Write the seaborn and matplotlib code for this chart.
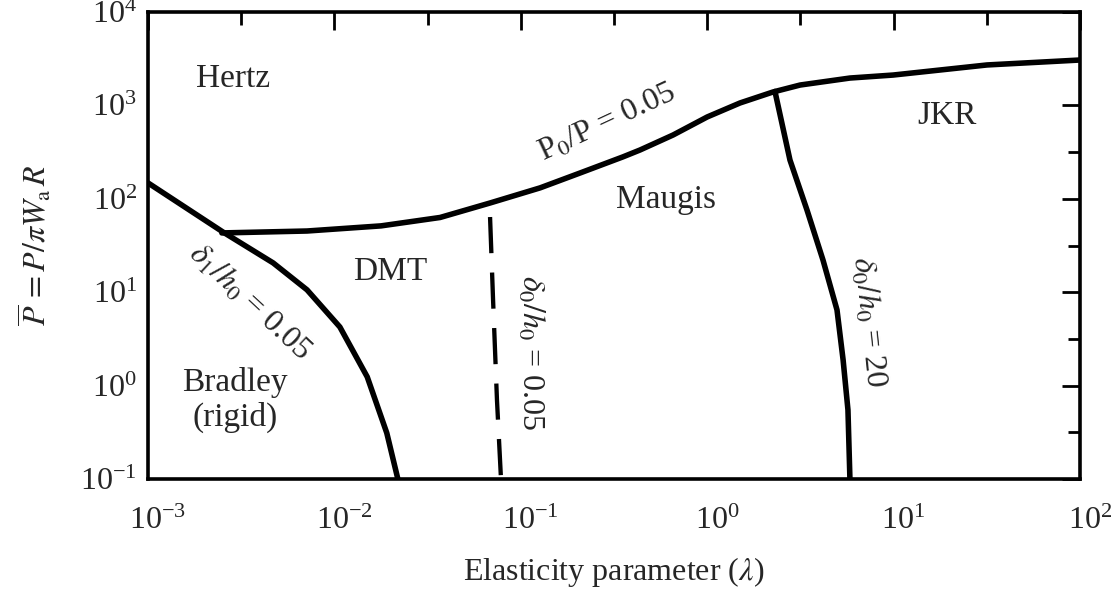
import matplotlib
matplotlib.use("Agg")
import matplotlib.pyplot as plt
import matplotlib.ticker as mticker
import matplotlib.transforms as mtransforms
import pandas as pd
import seaborn as sns

# Boundary P0/P = 0.05 (Hertz / DMT-Maugis-JKR)
p0_lambda = [0.00249, 0.00713, 0.0178, 0.0369, 0.0684, 0.127, 0.208, 0.353, 0.436,
             0.656, 1.0, 1.50, 2.25, 3.15, 5.83, 9.93, 31.7, 100.0]
p0_load = [43.1, 45.2, 51.3, 63.1, 90.2, 131, 189, 281, 333,
           482, 752, 1062, 1390, 1652, 1963, 2113, 2710, 3062]

# Boundary delta1/h0 = 0.05 (Bradley rigid limit)
d1_lambda = [0.001, 0.00252, 0.00469, 0.00713, 0.0107, 0.0150, 0.0191, 0.0219]
d1_load = [148, 44.2, 20.6, 10.6, 4.24, 1.24, 0.311, 0.1]

# Boundary delta0/h0 = 0.05 (DMT / Maugis)
d005_lambda = [0.0684, 0.0710, 0.0745, 0.0783]
d005_load = [63.8, 8.24, 0.70, 0.1]

# Boundary delta0/h0 = 20 (Maugis / JKR)
d20_lambda = [2.31, 2.78, 3.43, 4.18, 4.97, 5.36, 5.69, 5.83]
d20_load = [1410, 260, 75.9, 22.1, 6.46, 1.88, 0.55, 0.1]

region_names = ["Hertz", "JKR", "Maugis", "DMT", "Bradley\n(rigid)"]
region_x = [0.00286, 19.4, 0.601, 0.0199, 0.00293]
region_y = [1920, 769, 97, 16.4, 0.70]

x_ticks = [1e-3, 1e-2, 1e-1, 1e0, 1e1, 1e2]
y_ticks = [1e-1, 1e0, 1e1, 1e2, 1e3, 1e4]

sns.set_style("white")
plt.rcParams["font.family"] = ["Liberation Serif", "DejaVu Serif"]
plt.rcParams["mathtext.fontset"] = "stix"

fig = plt.figure(figsize=(11.13, 5.98), dpi=100)
ax = fig.add_axes([148 / 1113, 1 - 479 / 598, (1080 - 148) / 1113, (479 - 12) / 598])

def frame(xs, ys):
    return pd.DataFrame({"lam": xs, "load": ys})

solid = dict(color="black", linewidth=4.0, estimator=None, sort=False, ax=ax)
sns.lineplot(data=frame(p0_lambda, p0_load), x="lam", y="load", **solid)
sns.lineplot(data=frame(d1_lambda, d1_load), x="lam", y="load", **solid)
sns.lineplot(data=frame(d20_lambda, d20_load), x="lam", y="load", **solid)
sns.lineplot(data=frame(d005_lambda, d005_load), x="lam", y="load", color="black",
             linewidth=3.1, estimator=None, sort=False, ax=ax,
             linestyle=(0, (8.4, 4.5)))

ax.set_xscale("log")
ax.set_yscale("log")
ax.set_xlim(1e-3, 1e2)
ax.set_ylim(1e-1, 1e4)
ax.set_xticks(x_ticks)
ax.set_yticks(y_ticks)
ax.xaxis.set_major_formatter(mticker.LogFormatterSciNotation())
ax.yaxis.set_major_formatter(mticker.LogFormatterSciNotation())
ax.xaxis.set_minor_locator(mticker.LogLocator(base=10, subs=(10 ** 0.5,)))
ax.yaxis.set_minor_locator(mticker.LogLocator(base=10, subs=(10 ** 0.5,)))
ax.xaxis.set_minor_formatter(mticker.NullFormatter())
ax.yaxis.set_minor_formatter(mticker.NullFormatter())

ax.tick_params(which="both", direction="in", top=True, right=True,
               width=2.0, color="black", labelsize=23)
ax.tick_params(which="major", length=13)
ax.tick_params(which="minor", length=9)
ax.tick_params(axis="x", which="major", pad=20)
ax.tick_params(axis="y", which="major", pad=8)
for s in ax.spines.values():
    s.set_linewidth(2.6)
    s.set_color("black")
    s.set_visible(True)

# nudge x tick labels so the base "10" sits over its tick
shift = mtransforms.ScaledTranslation(7 / 72, 0, fig.dpi_scale_trans)
for lbl in ax.get_xticklabels():
    lbl.set_transform(lbl.get_transform() + shift)

ax.set_xlabel(r"Elasticity parameter ($\lambda$)", fontsize=23, labelpad=14)
ax.set_ylabel(r"$\overline{P}\, = P/\pi W_{\mathrm{a}}\, R$", fontsize=23, labelpad=19)

for name, xv, yv in zip(region_names, region_x, region_y):
    ax.text(xv, yv, name, fontsize=24, ha="center", va="center", linespacing=1.15)

ax.text(0.290, 649, r"P$_0$/P = 0.05", fontsize=23, ha="center", va="center",
        rotation=25, rotation_mode="anchor")
ax.text(0.00352, 7.65, r"$\delta_1/h_0$ = 0.05", fontsize=23, ha="center", va="center",
        rotation=-43, rotation_mode="anchor")
ax.text(0.112, 2.23, r"$\delta_0/h_0$ = 0.05", fontsize=23, ha="center", va="center",
        rotation=-90, rotation_mode="anchor")
ax.text(7.30, 4.80, r"$\delta_0/h_0$ = 20", fontsize=23, ha="center", va="center",
        rotation=-84, rotation_mode="anchor")

fig.savefig("out.png", dpi=100)
